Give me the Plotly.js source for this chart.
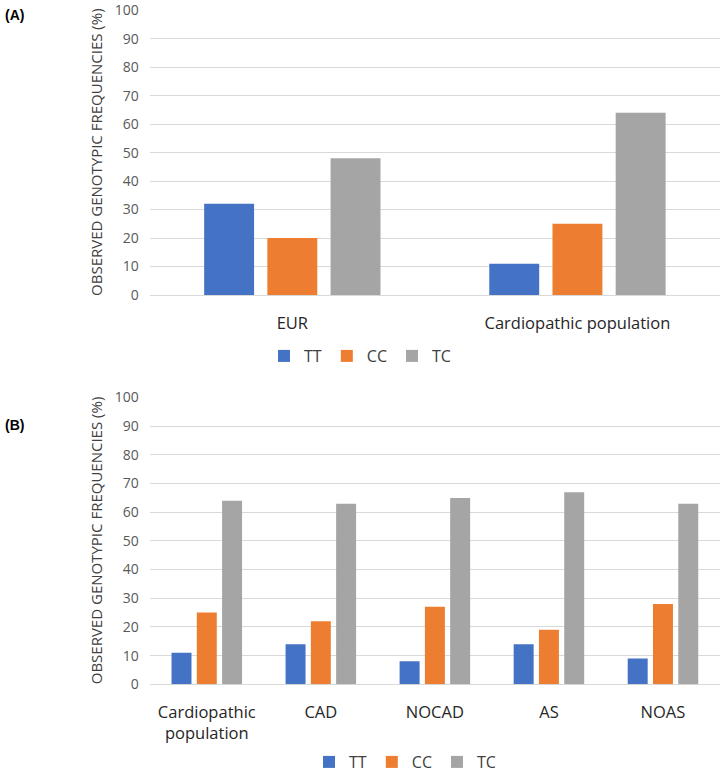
<!DOCTYPE html>
<html>
<head>
<meta charset="utf-8">
<script src="https://cdn.plot.ly/plotly-3.0.1.min.js"></script>
<style>
  body { margin: 0; background: #fff; }
  #myDiv { width: 720px; height: 779px; }
</style>
</head>
<body>
<div id="myDiv"></div>
<script>
// (A) EUR vs cardiopathic population
var groupsA = ['EUR', 'Cardiopathic population'];
var ttA = [32, 11];
var ccA = [20, 25];
var tcA = [48, 64];

// (B) subgroups of the cardiopathic population
var groupsB = ['Cardiopathic<br>population', 'CAD', 'NOCAD', 'AS', 'NOAS'];
var ttB = [11, 14, 8, 14, 9];
var ccB = [25, 22, 27, 19, 28];
var tcB = [64, 63, 65, 67, 63];

var genotypes = ['TT', 'CC', 'TC'];
var colors = ['#4472C4', '#ED7D31', '#A5A5A5'];

var seriesA = [ttA, ccA, tcA];
var seriesB = [ttB, ccB, tcB];

var data = [];

for (let index = 0; index < genotypes.length; index++) {
  data.push({
    type: 'bar', name: genotypes[index], x: groupsA, y: seriesA[index],
    marker: {color: colors[index]}, xaxis: 'x', yaxis: 'y', legend: 'legend',
    hoverinfo: 'y+name'
  });
}

for (let index = 0; index < genotypes.length; index++) {
  data.push({
    type: 'bar', name: genotypes[index], x: groupsB, y: seriesB[index],
    marker: {color: colors[index]}, xaxis: 'x2', yaxis: 'y2', legend: 'legend2',
    hoverinfo: 'y+name'
  });
}

var tickFont = {family: 'Open Sans', size: 14, color: '#595959'};
var titleFont = {family: 'Open Sans', size: 15, color: '#404040'};
var catFont = {family: 'Open Sans', size: 16.5, color: '#262626'};
var legendFont = {family: 'Open Sans', size: 16, color: '#404040'};

function yAxis(domain, anchor) {
  return {
    domain: domain, anchor: anchor, range: [0, 100.3], tick0: 0, dtick: 10,
    showgrid: true, gridcolor: '#d9d9d9', gridwidth: 1.3,
    zeroline: true, zerolinecolor: '#d9d9d9', zerolinewidth: 1.3,
    showline: false, ticks: '', tickfont: tickFont, ticklabelstandoff: 10,
    ticklabeloverflow: 'allow', fixedrange: true, automargin: false,
    title: {text: 'OBSERVED GENOTYPIC FREQUENCIES (%)', font: titleFont, standoff: 8}
  };
}

function xAxis(anchor) {
  return {
    domain: [0.208, 1], anchor: anchor, showline: false, ticks: '',
    tickfont: catFont, ticklabelstandoff: 16, fixedrange: true, automargin: false
  };
}

var layout = {
  width: 720,
  height: 779,
  margin: {l: 0, r: 0, t: 0, b: 0},
  paper_bgcolor: '#fff',
  plot_bgcolor: '#fff',
  barmode: 'group',
  bargap: 0.335,
  bargroupgap: 0.21,
  xaxis: xAxis('y'),
  yaxis: yAxis([0.6213, 0.988], 'x'),
  xaxis2: xAxis('y2'),
  yaxis2: yAxis([0.1216, 0.4908], 'x2'),
  legend: {
    orientation: 'h', x: 0.5, xanchor: 'center', y: 0.543, yanchor: 'middle',
    font: legendFont, itemwidth: 30
  },
  legend2: {
    orientation: 'h', x: 0.5625, xanchor: 'center', y: 0, yanchor: 'bottom',
    font: legendFont, itemwidth: 30
  },
  annotations: [
    {text: '<b>(A)</b>', xref: 'paper', yref: 'paper', x: 0.004, y: 0.981,
     xanchor: 'left', yanchor: 'middle', showarrow: false,
     font: {family: 'Liberation Sans', size: 14, color: '#000'}},
    {text: '<b>(B)</b>', xref: 'paper', yref: 'paper', x: 0.004, y: 0.455,
     xanchor: 'left', yanchor: 'middle', showarrow: false,
     font: {family: 'Liberation Sans', size: 14, color: '#000'}}
  ]
};

Plotly.newPlot('myDiv', data, layout, {displayModeBar: false});
</script>
</body>
</html>
